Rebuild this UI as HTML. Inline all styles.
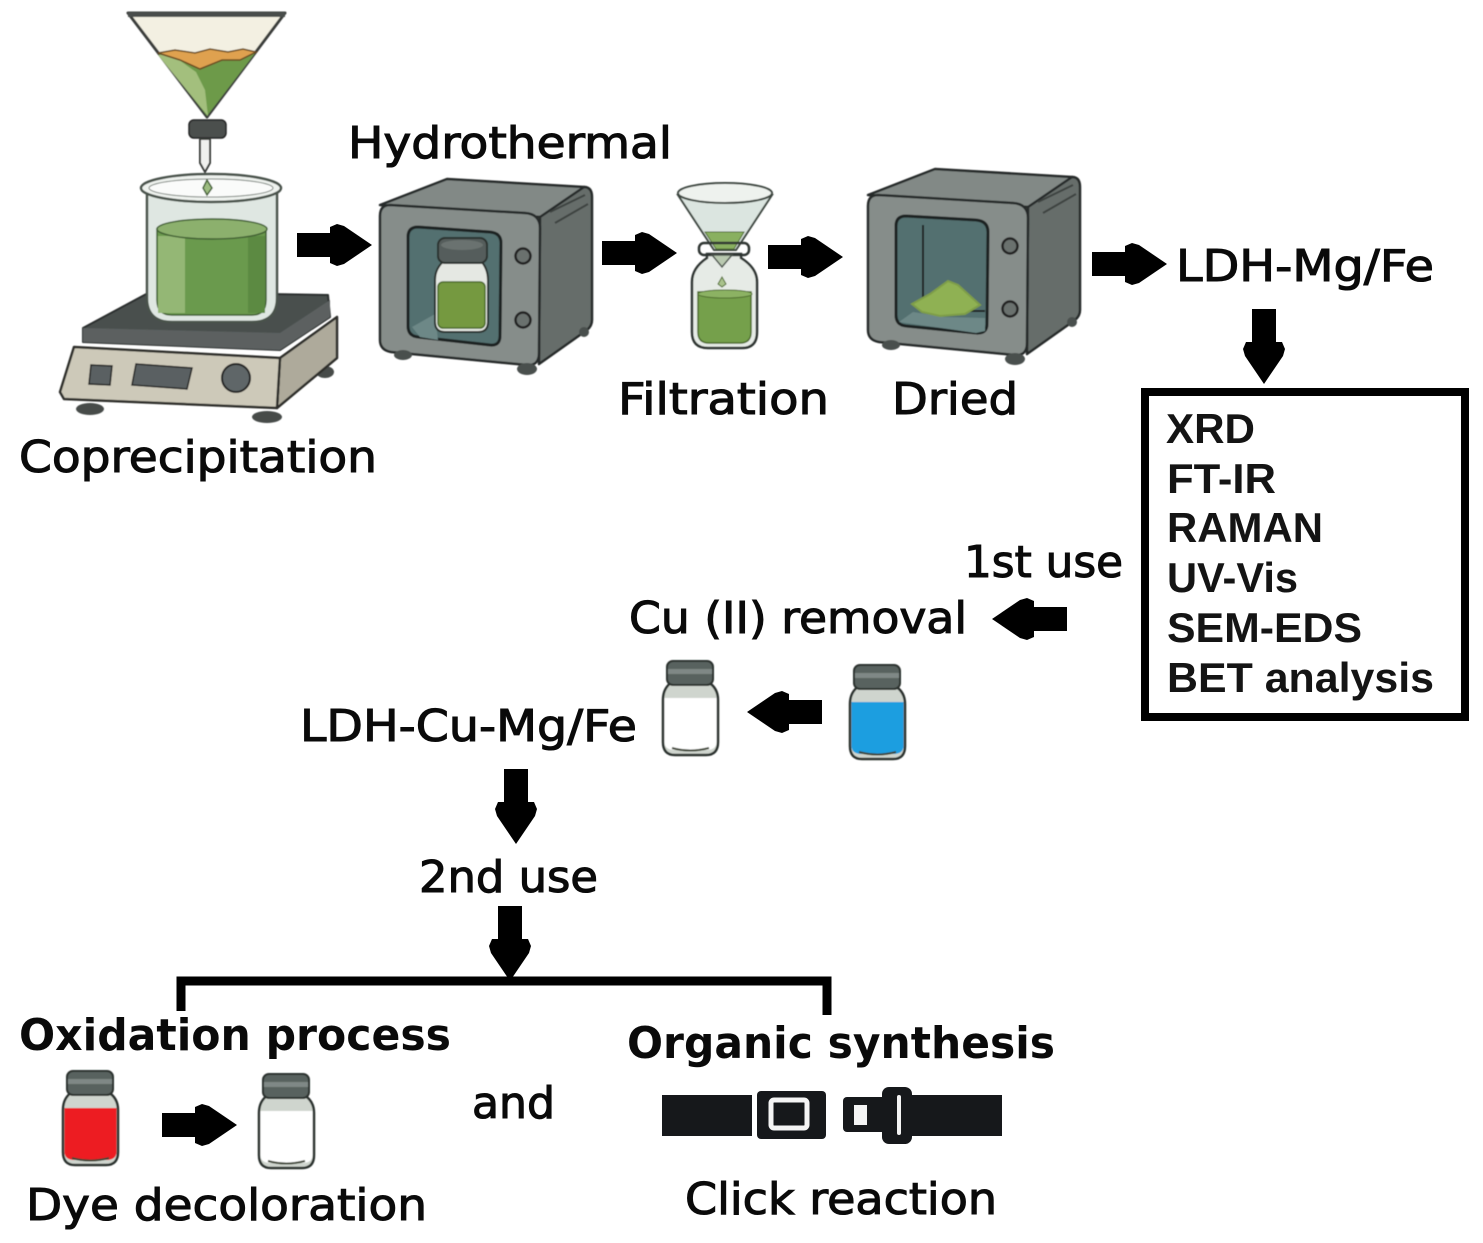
<!DOCTYPE html>
<html><head><meta charset="utf-8"><style>
html,body{margin:0;padding:0;background:#fff}
svg{display:block}
text{font-family:"DejaVu Sans","Liberation Sans",sans-serif;fill:#0a0a0a}
.l{stroke:#0a0a0a;stroke-width:1.1px}
.b{font-family:"Liberation Sans",sans-serif;font-weight:700;font-size:42px;fill:#141414}
</style></head><body>
<svg width="1483" height="1243" viewBox="0 0 1483 1243" xmlns="http://www.w3.org/2000/svg">
<defs>
<polygon id="ar" points="0,-12 33,-12 33,-18 40,-21 47,-19 75,0 47,19 40,21 33,18 33,12 0,12" fill="#000"/>
<g id="vial">
  <path d="M10 22L46 22Q56 28 56 40L56 82Q56 95 44 95L13 95Q1 95 1 82L1 40Q1 28 10 22Z" fill="#cfd5ce" stroke="#2c312e" stroke-width="2.500"/>
  <path d="M2.500 38L54.500 38L54.500 82Q54.500 90 44 90L13 90Q2.500 90 2.500 82Z" fill="currentColor"/>
  <path d="M10 88Q28 93 47 88" fill="none" stroke="#3d4436" stroke-width="2"/>
  <rect x="5" y="1" width="46" height="24" rx="6" fill="#59625f" stroke="#2c312e" stroke-width="2"/>
  <rect x="6" y="9" width="44" height="5" fill="#7f8886"/>
</g>
<g id="oven">
  <path d="M1 25L68 -1L205 7Q212 8 212 14L161 37L12 26Z" fill="#828986" stroke="#262b29" stroke-width="2.500" stroke-linejoin="round"/>
  <path d="M161 37L205 7Q213 7 213 17L213 140Q213 146 208 150L160 184Z" fill="#666d6a" stroke="#262b29" stroke-width="2.500" stroke-linejoin="round"/>
  <path d="M11 25L146 33Q161 34 161 48L160 173Q160 186 148 185L12 172Q1 170 1 160L1 36Q1 25 11 25Z" fill="#868d8a" stroke="#262b29" stroke-width="2.500"/>
  <path d="M171 32L206 15M176 43L209 24" stroke="#3c4240" stroke-width="2"/>
  <ellipse cx="24" cy="175" rx="9" ry="5" fill="#4a4f4d"/>
  <ellipse cx="148" cy="189" rx="10" ry="6" fill="#4a4f4d"/>
  <ellipse cx="205" cy="152" rx="5" ry="5" fill="#4a4f4d"/>
</g>
<filter id="s" x="-5%" y="-5%" width="110%" height="110%"><feGaussianBlur stdDeviation="0.6"/></filter>
</defs>

<g filter="url(#s)">
<!-- funnel -->
<polygon points="128,13 285,13 207,117" fill="#f3f0e2" stroke="#3a3d3b" stroke-width="3" stroke-linejoin="round"/>
<rect x="128" y="12" width="157" height="5" fill="#4a4d4c"/>
<polygon points="158,53 175,50 195,53 210,49 228,52 243,49 256,52 207,116" fill="#6d9a4a"/>
<polygon points="158,55 172,55 196,72 205,90 208,116" fill="#a3bf7d"/>
<path d="M158 53L175 50L195 53L210 49L228 52L243 49L256 52L240 60L222 60L200 69L180 60Z" fill="#dfa14f" stroke="#6b4c22" stroke-width="1.500"/>
<rect x="189" y="120" width="37" height="18" rx="5" fill="#4b4f4e" stroke="#222" stroke-width="1.500"/>
<path d="M200 139L210 139L210 163L205 172L200 163Z" fill="#f0f0ee" stroke="#3a3d3b" stroke-width="2"/>
<!-- hot plate -->
<ellipse cx="90" cy="409" rx="14" ry="6" fill="#474c4a"/>
<ellipse cx="267" cy="417" rx="15" ry="6" fill="#474c4a"/>
<ellipse cx="325" cy="372" rx="9" ry="6" fill="#474c4a"/>
<polygon points="280,358 337,317 337,358 277,408" fill="#aeaa9b" stroke="#2d2f2c" stroke-width="2.500" stroke-linejoin="round"/>
<polygon points="74,347 280,358 277,408 64,399 60,392" fill="#cdc9b9" stroke="#2d2f2c" stroke-width="2.500" stroke-linejoin="round"/>
<polygon points="83,328 150,292 328,295 330,317 280,350 83,342" fill="#4a4f4e" stroke="#2b2e2d" stroke-width="2" stroke-linejoin="round"/>
<polygon points="83,328 280,333 330,300 330,317 280,350 83,342" fill="#5c6160"/>
<polygon points="91,365 112,366 110,385 89,384" fill="#5a6162" stroke="#222" stroke-width="1.500"/>
<polygon points="136,364 192,368 187,389 132,385" fill="#5a6162" stroke="#222" stroke-width="1.500"/>
<circle cx="236" cy="378" r="14" fill="#5f6668" stroke="#222" stroke-width="2"/>
<!-- beaker -->
<path d="M147 190L147 298Q147 322 172 322L252 322Q277 322 277 298L277 190Z" fill="#dfe7e2" stroke="#4a524c" stroke-width="2.500"/>
<path d="M157 229L157 300Q157 315 172 315L252 315Q266 315 266 300L266 229Z" fill="#6b9a4e" stroke="#3f5f33" stroke-width="1.500"/>
<rect x="158" y="236" width="27" height="77" fill="#94b774"/>
<rect x="248" y="236" width="17" height="77" fill="#5c8a42"/>
<ellipse cx="212" cy="229" rx="55" ry="10" fill="#8cb06d" stroke="#3f5f33" stroke-width="1.500"/>
<ellipse cx="211" cy="188" rx="70" ry="14" fill="#eef2ee" stroke="#4a524c" stroke-width="2.500"/>
<ellipse cx="211" cy="188" rx="62" ry="9" fill="#fafbfa" stroke="#7a827c" stroke-width="1"/>
<path d="M207 180L212 188L207 195L203 188Z" fill="#9cbc80" stroke="#3f5f33" stroke-width="1.500"/>

<!-- oven 1 -->
<use href="#oven" x="379" y="180"/>
<path d="M418 227L490 232Q501 233 501 243L500 336Q500 346 490 345L418 337Q408 336 408 326L408 237Q408 227 418 227Z" fill="#526f6f" stroke="#1f2423" stroke-width="3"/>
<path d="M412 327L435 314L438 340L420 337Z" fill="#6d8887"/>
<circle cx="523" cy="256" r="7.500" fill="#6a716e" stroke="#222" stroke-width="2.500"/>
<circle cx="523" cy="320" r="7.500" fill="#6a716e" stroke="#222" stroke-width="2.500"/>
<path d="M445 260L480 260Q488 268 488 280L488 322Q488 332 478 332L445 332Q435 332 435 322L435 280Q435 268 445 260Z" fill="#e5e8e3" stroke="#2c312e" stroke-width="2"/>
<rect x="438" y="282" width="47" height="46" rx="5" fill="#75993f" stroke="#4b6a2a" stroke-width="1.500"/>
<rect x="438" y="238" width="49" height="25" rx="7" fill="#555d5b" stroke="#2c312e" stroke-width="2"/>
<ellipse cx="462" cy="245" rx="21" ry="5" fill="#6a7270"/>
<!-- filter flask -->
<path d="M707 254L741 254L741 258Q757 268 757 282L757 332Q757 348 742 348L708 348Q692 348 692 332L692 282Q692 268 707 258Z" fill="#e6ebe6" stroke="#2e3531" stroke-width="2.500"/>
<path d="M698 292L751 292L751 332Q751 343 740 343L709 343Q698 343 698 332Z" fill="#75a04c" stroke="#4b6a2a" stroke-width="1.500"/>
<ellipse cx="725" cy="294" rx="27" ry="4" fill="#8cb264" stroke="#4b6a2a" stroke-width="1"/>
<polygon points="678,195 772,195 736,250 714,250" fill="#dbe5e0" stroke="#3e4641" stroke-width="2"/>
<polygon points="705,232 744,232 734,249 716,249" fill="#89b060" stroke="#4b6a2a" stroke-width="1"/>
<ellipse cx="725" cy="193" rx="47" ry="10" fill="#eef2ee" stroke="#3e4641" stroke-width="2"/>
<rect x="699" y="243" width="50" height="12" rx="5" fill="none" stroke="#2e3531" stroke-width="2.500"/>
<path d="M712 255L732 255L722 267Z" fill="#b9c9b0" stroke="#4a524c" stroke-width="1.500"/>
<path d="M722 277L726 284L722 287L718 284Z" fill="#a9c28c" stroke="#4b6a2a"/>
<!-- oven 2 -->
<use href="#oven" x="867" y="170"/>
<path d="M906 216L976 220Q988 221 988 232L987 324Q987 334 976 333L906 326Q896 325 896 315L896 226Q896 216 906 216Z" fill="#526f6f" stroke="#1f2423" stroke-width="3"/>
<path d="M923 225L923 307" stroke="#1f2423" stroke-width="2"/>
<path d="M950 311L985 311" stroke="#1f2423" stroke-width="2"/>
<path d="M899 322L913 312L945 317L985 318L985 331L976 333Z" fill="#6d8887"/>
<circle cx="1010" cy="246" r="7.500" fill="#6a716e" stroke="#222" stroke-width="2.500"/>
<circle cx="1010" cy="309" r="7.500" fill="#6a716e" stroke="#222" stroke-width="2.500"/>
<path d="M912 304L930 294L948 281L958 285L980 305L965 314L940 316L922 312Z" fill="#8fb152" stroke="#7e9d48" stroke-width="2"/>
<!-- vials -->
<use href="#vial" x="662" y="660" color="#ffffff"/>
<use href="#vial" x="849" y="664" color="#1f9ee0"/>
<use href="#vial" x="62" y="1070" color="#ed1c24"/>
<use href="#vial" x="258" y="1073" color="#ffffff"/>
</g>

<!-- arrows -->
<use href="#ar" x="297" y="245"/>
<use href="#ar" x="602" y="253"/>
<use href="#ar" x="768" y="257"/>
<use href="#ar" x="1092" y="264"/>
<use href="#ar" transform="translate(1264 309) rotate(90)"/>
<use href="#ar" transform="translate(1067 619) rotate(180)"/>
<use href="#ar" transform="translate(822 712) rotate(180)"/>
<use href="#ar" transform="translate(516 769) rotate(90)"/>
<use href="#ar" transform="translate(510 906) rotate(90)"/>
<use href="#ar" x="162" y="1125"/>

<!-- bracket -->
<path d="M181 1011L181 981L827 981L827 1015" fill="none" stroke="#000" stroke-width="9"/>

<!-- results box -->
<rect x="1145" y="392" width="320" height="325" fill="#fff" stroke="#000" stroke-width="8"/>
<text class="b" x="1166" y="443" textLength="89" lengthAdjust="spacingAndGlyphs">XRD</text>
<text class="b" x="1167" y="493" textLength="109" lengthAdjust="spacingAndGlyphs">FT-IR</text>
<text class="b" x="1167" y="542" textLength="156" lengthAdjust="spacingAndGlyphs">RAMAN</text>
<text class="b" x="1167" y="592" textLength="131" lengthAdjust="spacingAndGlyphs">UV-Vis</text>
<text class="b" x="1167" y="642" textLength="195" lengthAdjust="spacingAndGlyphs">SEM-EDS</text>
<text class="b" x="1167" y="692" textLength="267" lengthAdjust="spacingAndGlyphs">BET analysis</text>

<!-- labels -->
<g font-size="44">
<text class="l" x="348" y="158" textLength="324" lengthAdjust="spacingAndGlyphs">Hydrothermal</text>
<text class="l" x="19" y="472" textLength="358" lengthAdjust="spacingAndGlyphs">Coprecipitation</text>
<text class="l" x="618" y="414" textLength="211" lengthAdjust="spacingAndGlyphs">Filtration</text>
<text class="l" x="892" y="414" textLength="126" lengthAdjust="spacingAndGlyphs">Dried</text>
<text class="l" x="1176" y="281" textLength="258" lengthAdjust="spacingAndGlyphs">LDH-Mg/Fe</text>
<text class="l" x="964" y="577" textLength="159" lengthAdjust="spacingAndGlyphs">1st use</text>
<text class="l" x="629" y="633" textLength="338" lengthAdjust="spacingAndGlyphs">Cu (II) removal</text>
<text class="l" x="300" y="741" textLength="337" lengthAdjust="spacingAndGlyphs">LDH-Cu-Mg/Fe</text>
<text class="l" x="419" y="892" textLength="179" lengthAdjust="spacingAndGlyphs">2nd use</text>
<text class="l" x="472" y="1118" textLength="83" lengthAdjust="spacingAndGlyphs">and</text>
<text class="l" x="26" y="1220" textLength="401" lengthAdjust="spacingAndGlyphs">Dye decoloration</text>
<text class="l" x="685" y="1214" textLength="312" lengthAdjust="spacingAndGlyphs">Click reaction</text>
<text x="19" y="1050" font-weight="700" textLength="432" lengthAdjust="spacingAndGlyphs">Oxidation process</text>
<text x="627" y="1058" font-weight="700" textLength="428" lengthAdjust="spacingAndGlyphs">Organic synthesis</text>
</g>

<!-- seat belt -->
<g fill="#16181b">
<rect x="662" y="1095" width="90" height="41"/>
<rect x="757" y="1091" width="69" height="48" rx="4"/>
<rect x="843" y="1097" width="45" height="35" rx="4"/>
<rect x="882" y="1087" width="30" height="57" rx="7"/>
<rect x="910" y="1095" width="92" height="41"/>
</g>
<rect x="771" y="1100" width="36" height="28" rx="3" fill="none" stroke="#f4f4f4" stroke-width="5"/>
<rect x="854" y="1105" width="13" height="20" fill="#f4f4f4"/>
<rect x="897" y="1095" width="4" height="40" rx="2" fill="#f4f4f4"/>
</svg>
</body></html>
